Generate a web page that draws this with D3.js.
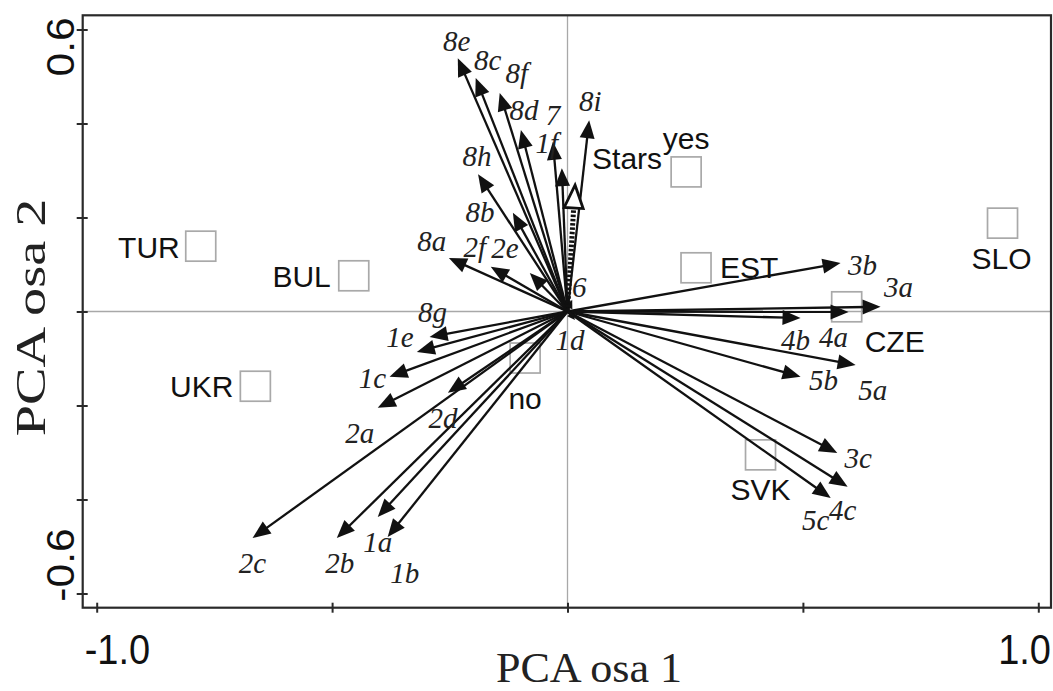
<!DOCTYPE html>
<html>
<head>
<meta charset="utf-8">
<script src="https://cdn.jsdelivr.net/npm/d3@7"></script>
<style>
  body { margin: 0; background: #fff; }
  svg { display: block; }
</style>
</head>
<body>
<svg id="chart" width="1053" height="691"></svg>
<script>
// ---- PCA biplot data: response variables (arrows) ----
const speciesNames = ["8e","8c","8f","8d","7","1f","8i","8h","8b","8a","2f","2e","6",
                      "8g","1e","1c","2a","2d","2c","2b","1a","1b","1d",
                      "3b","3a","4a","4b","5a","5b","3c","4c","5c"];
const speciesX = [-0.233,-0.195,-0.144,-0.099,-0.031,-0.012,0.046,-0.190,-0.116,-0.252,-0.163,-0.080,0.010,
                  -0.293,-0.320,-0.378,-0.403,-0.254,-0.669,-0.490,-0.403,-0.382,0.016,
                  0.580,0.665,0.597,0.495,0.612,0.495,0.573,0.595,0.559];
const speciesY = [0.539,0.497,0.465,0.386,0.361,0.305,0.407,0.292,0.210,0.114,0.095,0.082,0.025,
                  -0.054,-0.086,-0.139,-0.205,-0.173,-0.482,-0.482,-0.437,-0.480,-0.018,
                  0.103,0.010,-0.001,-0.014,-0.114,-0.139,-0.301,-0.373,-0.397];

// supplementary variable (hollow head, dotted shaft)
const suppNames = ["Stars"];
const suppX = [0.016];
const suppY = [0.269];

// ---- sample centroids (squares) ----
const siteNames = ["TUR","BUL","UKR","no","yes","EST","CZE","SVK","SLO"];
const siteX = [-0.779,-0.454,-0.663,-0.090,0.252,0.273,0.593,0.410,0.924];
const siteY = [0.139,0.076,-0.159,-0.099,0.297,0.093,0.010,-0.305,0.188];

// ---- axes ----
const xTickValues = [-1.0,-0.5,0,0.5,1.0];
const xTickLabels = ["-1.0","","","","1.0"];
const yTickValues = [-0.6,-0.4,-0.2,0,0.2,0.4,0.6];
const yTickLabels = ["-0.6","","","","","","0.6"];
const xTitle = "PCA osa 1";
const yTitle = "PCA osa 2";

// ---- label placement around arrow tips (pixels: dx, dy, anchor) ----
const arrowLabelLayout = {
  "8e":[-1,-17,"middle"], "8c":[12,-18,"middle"], "8f":[17,-20,"middle"], "8d":[3,-20,"middle"],
  "7":[0,-27,"middle"], "1f":[-15,-25,"middle"], "8i":[1,-19,"middle"], "8h":[-1,-18,"middle"],
  "8b":[-33,-1,"middle"], "8a":[-17,-17,"middle"], "2f":[-16,-20,"middle"], "2e":[-25,-25,"middle"],
  "6":[7,-13,"middle"], "8g":[3,-25,"middle"], "1e":[-17,-15,"middle"], "1c":[-17,1,"middle"],
  "2a":[-18,25,"middle"], "2d":[-5,25,"middle"], "2c":[0,25,"middle"], "2b":[3,25,"middle"],
  "1a":[0,25,"middle"], "1b":[17,36,"middle"], "1d":[-5,20,"middle"],
  "3b":[22,2,"middle"], "3a":[18,-20,"middle"], "4a":[-15,25,"middle"], "4b":[-5,22,"middle"],
  "5a":[17,25,"middle"], "5b":[23,3,"middle"], "3c":[21,5,"middle"], "4c":[-5,23,"middle"],
  "5c":[-15,22,"middle"], "Stars":[17,-27,"start"]
};
const siteLabelLayout = {
  "TUR":[-21,1,"end"], "BUL":[-23,1,"end"], "UKR":[-22,0,"end"], "no":[0,40,"middle"],
  "yes":[0,-33,"middle"], "EST":[24,0,"start"], "CZE":[48,35,"middle"], "SVK":[0,35,"middle"],
  "SLO":[-1,35,"middle"]
};

const svg = d3.select("#chart");
const x = d3.scaleLinear().domain([-1, 1]).range([96.7, 1038.3]);
const y = d3.scaleLinear().domain([-0.6, 0.6]).range([593.5, 29.5]);

const frame = { left: 82.7, right: 1051, top: 15.3, bottom: 607.7 };
const SANS = "'Liberation Sans', Arial, sans-serif";
const SERIF = "'Liberation Serif', 'Times New Roman', serif";

// zero lines
svg.append("line")
  .attr("x1", frame.left).attr("x2", frame.right)
  .attr("y1", y(0)).attr("y2", y(0))
  .attr("stroke", "#a8a8a8").attr("stroke-width", 1.3);
svg.append("line")
  .attr("y1", frame.top).attr("y2", frame.bottom)
  .attr("x1", x(0)).attr("x2", x(0))
  .attr("stroke", "#a8a8a8").attr("stroke-width", 1.3);

// frame
svg.append("rect")
  .attr("x", frame.left).attr("y", frame.top)
  .attr("width", frame.right - frame.left).attr("height", frame.bottom - frame.top)
  .attr("fill", "none").attr("stroke", "#2a2a2a").attr("stroke-width", 2.2);

// tick marks crossing the frame
const xAxis = svg.append("g")
  .attr("transform", `translate(0,${frame.bottom})`)
  .call(d3.axisBottom(x).tickValues(xTickValues).tickSize(5).tickFormat(""));
xAxis.select(".domain").remove();
xAxis.selectAll(".tick line").attr("y1", -5).attr("y2", 5)
  .attr("stroke", "#2a2a2a").attr("stroke-width", 2);

const yAxis = svg.append("g")
  .attr("transform", `translate(${frame.left},0)`)
  .call(d3.axisLeft(y).tickValues(yTickValues).tickSize(5).tickFormat(""));
yAxis.select(".domain").remove();
yAxis.selectAll(".tick line").attr("x1", -6).attr("x2", 5)
  .attr("stroke", "#2a2a2a").attr("stroke-width", 2);

// tick labels, first and last aligned to the frame edges
xTickValues.forEach((v, i) => {
  const t = xTickLabels[i];
  if (!t) return;
  const first = i === 0;
  svg.append("text")
    .attr("transform", `translate(${first ? frame.left + 2 : frame.right},664) scale(1,1.12)`)
    .attr("text-anchor", first ? "start" : "end")
    .attr("font-family", SANS).attr("font-size", 38).attr("fill", "#111")
    .text(t);
});
yTickValues.forEach((v, i) => {
  const t = yTickLabels[i];
  if (!t) return;
  const first = i === 0;
  svg.append("text")
    .attr("transform", `translate(74,${first ? frame.bottom - 6 : frame.top + 2}) scale(1.0,1.12) rotate(-90)`)
    .attr("text-anchor", first ? "start" : "end")
    .attr("font-family", SANS).attr("font-size", 38).attr("fill", "#111")
    .text(t);
});

// axis titles
svg.append("text")
  .attr("transform", `translate(589,682) scale(1.05,1)`)
  .attr("text-anchor", "middle")
  .attr("font-family", SERIF).attr("font-size", 42).attr("fill", "#222")
  .text(xTitle);
svg.append("text")
  .attr("transform", `translate(45,${(frame.top + frame.bottom) / 2 + 6}) scale(1,1.34) rotate(-90)`)
  .attr("text-anchor", "middle")
  .attr("font-family", SERIF).attr("font-size", 42).attr("fill", "#222")
  .text(yTitle);

// site squares
const sites = siteNames.map((n, i) => ({ name: n, x: siteX[i], y: siteY[i] }));
const SQ = 30;
svg.append("g").selectAll("rect").data(sites).join("rect")
  .attr("x", d => x(d.x) - SQ / 2).attr("y", d => y(d.y) - SQ / 2)
  .attr("width", SQ).attr("height", SQ)
  .attr("fill", "none").attr("stroke", "#a9a9a9").attr("stroke-width", 1.7);

// arrows
const ox = x(0), oy = y(0);
const species = speciesNames.map((n, i) => ({ name: n, x: speciesX[i], y: speciesY[i] }));
const HEAD_L = 18, HEAD_W = 7.5;

function headPoints(tx, ty, L, W) {
  const a = Math.atan2(ty - oy, tx - ox);
  const bx = tx - L * Math.cos(a), by = ty - L * Math.sin(a);
  const px = -Math.sin(a) * W, py = Math.cos(a) * W;
  return { bx, by, pts: [[tx, ty], [bx + px, by + py], [bx - px, by - py]] };
}

const ag = svg.append("g");
species.forEach(d => {
  const tx = x(d.x), ty = y(d.y);
  const len = Math.hypot(tx - ox, ty - oy);
  const L = Math.min(HEAD_L, len * 0.7);
  const h = headPoints(tx, ty, L, Math.min(HEAD_W, L * 0.42));
  ag.append("line")
    .attr("x1", ox).attr("y1", oy).attr("x2", h.bx + (tx - h.bx) * 0.2).attr("y2", h.by + (ty - h.by) * 0.2)
    .attr("stroke", "#111").attr("stroke-width", 2.3);
  ag.append("polygon")
    .attr("points", h.pts.map(p => p.join(",")).join(" "))
    .attr("fill", "#111");
});

// supplementary arrow: dotted shaft, hollow triangle head
suppNames.forEach((n, i) => {
  const tx = x(suppX[i]), ty = y(suppY[i]);
  const h = headPoints(tx, ty, 23, 9.5);
  ag.append("line")
    .attr("x1", ox).attr("y1", oy).attr("x2", h.bx).attr("y2", h.by)
    .attr("stroke", "#111").attr("stroke-width", 5).attr("stroke-dasharray", "2.5,1.8");
  ag.append("polygon")
    .attr("points", h.pts.map(p => p.join(",")).join(" "))
    .attr("fill", "#fff").attr("stroke", "#111").attr("stroke-width", 2.8)
    .attr("stroke-linejoin", "miter");
});

// arrow labels
const lg = svg.append("g");
species.forEach(d => {
  const [dx, dy, anchor] = arrowLabelLayout[d.name];
  lg.append("text")
    .attr("x", x(d.x) + dx).attr("y", y(d.y) + dy)
    .attr("text-anchor", anchor).attr("dominant-baseline", "central")
    .attr("font-family", SERIF).attr("font-style", "italic")
    .attr("font-size", 29).attr("fill", "#222")
    .text(d.name);
});
suppNames.forEach((n, i) => {
  const [dx, dy, anchor] = arrowLabelLayout[n];
  lg.append("text")
    .attr("x", x(suppX[i]) + dx).attr("y", y(suppY[i]) + dy)
    .attr("text-anchor", anchor).attr("dominant-baseline", "central")
    .attr("font-family", SANS).attr("font-size", 30).attr("fill", "#111")
    .text(n);
});

// site labels
sites.forEach(d => {
  const [dx, dy, anchor] = siteLabelLayout[d.name];
  lg.append("text")
    .attr("x", x(d.x) + dx).attr("y", y(d.y) + dy)
    .attr("text-anchor", anchor).attr("dominant-baseline", "central")
    .attr("font-family", SANS).attr("font-size", 30).attr("fill", "#111")
    .text(d.name);
});
</script>
</body>
</html>
